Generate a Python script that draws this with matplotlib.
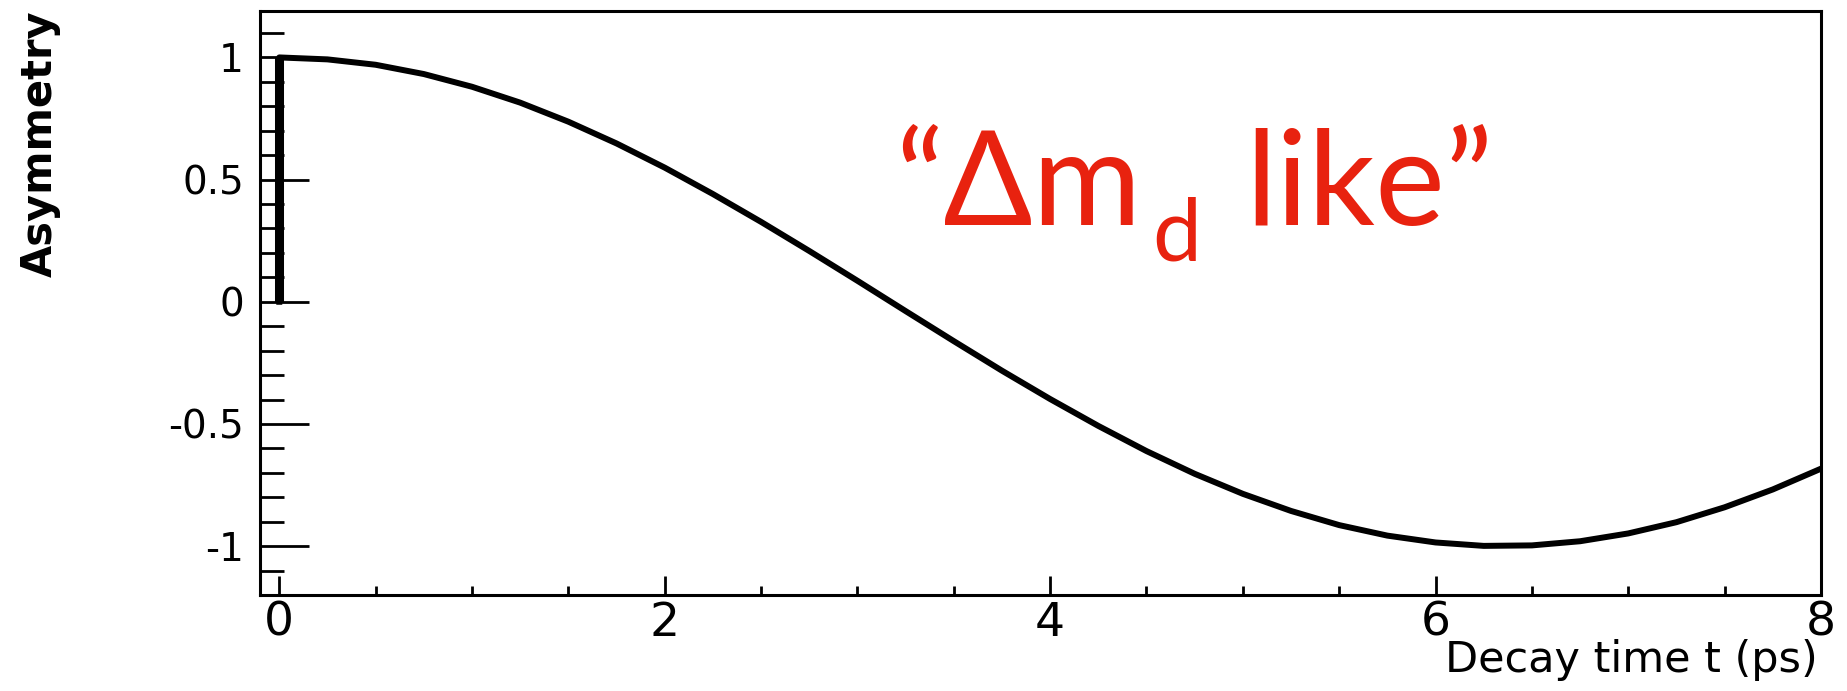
import matplotlib
matplotlib.use("Agg")
import matplotlib.pyplot as plt
from matplotlib.ticker import MultipleLocator

plt.rcParams['axes.unicode_minus'] = False

# asymmetry vs proper decay time, starts with a step up from 0 at t=0
decay_t = [0.0, 0.0, 0.25, 0.5, 0.75, 1.0, 1.25, 1.5, 1.75, 2.0, 2.25, 2.5, 2.75,
           3.0, 3.25, 3.5, 3.75, 4.0, 4.25, 4.5, 4.75, 5.0, 5.25, 5.5, 5.75,
           6.0, 6.25, 6.5, 6.75, 7.0, 7.25, 7.5, 7.75, 8.0]
asym = [0.0, 1.0, 0.992, 0.970, 0.932, 0.880, 0.815, 0.737, 0.648, 0.549, 0.441,
        0.327, 0.208, 0.086, -0.038, -0.161, -0.282, -0.398, -0.508, -0.611,
        -0.704, -0.786, -0.856, -0.914, -0.957, -0.985, -0.999, -0.997, -0.980,
        -0.948, -0.902, -0.841, -0.768, -0.683]

xticks = [0, 2, 4, 6, 8]
yticks = [-1, -0.5, 0, 0.5, 1]
ytick_labels = ['-1', '-0.5', '0', '0.5', '1']

W, H = 1847, 691
fig = plt.figure(figsize=(W / 100, H / 100), dpi=100)
ax = fig.add_axes([260 / W, 1 - 595 / H, (1821 - 260) / W, (595 - 11) / H])

ax.plot(decay_t, asym, color='black', lw=4.3, solid_joinstyle='round')
# the initial jump is drawn heavier
ax.plot(decay_t[:2], asym[:2], color='black', lw=6.5, solid_capstyle='butt')

ax.set_xlim(-0.1, 8)
ax.set_ylim(-1.2, 1.19)

for s in ax.spines.values():
    s.set_linewidth(2.2)

ax.set_xticks(xticks)
ax.set_yticks(yticks)
ax.set_yticklabels(ytick_labels)
ax.xaxis.set_minor_locator(MultipleLocator(0.5))
ax.yaxis.set_minor_locator(MultipleLocator(0.1))

ax.tick_params(axis='y', which='major', direction='in', length=35, width=2,
               labelsize=28, pad=11.5)
ax.tick_params(axis='y', which='minor', direction='in', length=17, width=2)
ax.tick_params(axis='x', which='major', direction='in', length=14, width=2,
               labelsize=34, pad=4)
ax.tick_params(axis='x', which='minor', direction='in', length=6.5, width=2)
ax.tick_params(top=False, right=False, which='both')

fig.text(40 / W, 1 - 10 / H, 'Asymmetry', rotation=90, ha='center', va='top',
         fontsize=30, fontweight='bold', family='DejaVu Sans')
fig.text(1818 / W, 1 - 672 / H, 'Decay time t (ps)', ha='right', va='baseline',
         fontsize=31, family='DejaVu Sans')

# "Δm_d like" label, built from three pieces so the subscript sits low
red = '#e8220f'
fam = ['Lato', 'DejaVu Sans']
t1 = ax.text(3.2, 0.315, '“Δm', fontsize=95, color=red, family=fam,
             ha='left', va='baseline')
fig.canvas.draw()
r = fig.canvas.get_renderer()
bx = t1.get_window_extent(r).x1
by = ax.transData.transform((3.2, 0.315))[1]
inv = ax.transData.inverted()
t2 = ax.text(*inv.transform((bx + 10, by - 36)), 'd', fontsize=63, color=red,
             family=fam, ha='left', va='baseline')
fig.canvas.draw()
dx = t2.get_window_extent(r).x1
ax.text(*inv.transform((dx + 44, by)), 'like”', fontsize=95, color=red,
        family=fam, ha='left', va='baseline')

fig.savefig('out.png', dpi=100, facecolor='white')
